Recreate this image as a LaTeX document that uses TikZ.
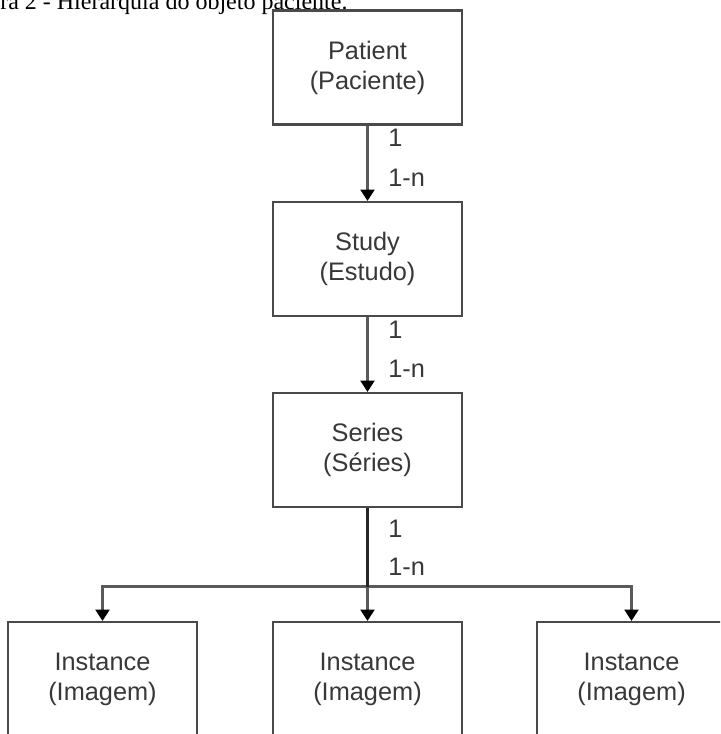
\documentclass[tikz,border=0pt]{standalone}
\usepackage{fontspec}
\setmainfont{Liberation Sans}
\newfontfamily\captionserif{Liberation Serif}
\usetikzlibrary{arrows.meta}
\definecolor{boxline}{HTML}{4A4A4A}
\definecolor{linkgray}{HTML}{5A5A5A}
\definecolor{txt}{HTML}{383838}
\begin{document}
\begin{tikzpicture}[x=0.75pt,y=-0.75pt,
  entity/.style={draw=boxline, fill=white, line width=1.6pt,
    minimum width=141.75pt, minimum height=85.5pt, inner sep=0pt,
    align=center, text=txt, font=\fontsize{19}{22.5}\selectfont},
  link/.style={draw=linkgray, line width=1.6pt,
    -{Triangle[length=8.5pt,width=10.5pt,color=black]}},
  trunk/.style={draw=black!85, line width=2.2pt},
  mult/.style={anchor=base west, inner sep=0pt, text=txt,
    font=\fontsize{19}{22.5}\selectfont}
]
\useasboundingbox (0,0) rectangle (720,734);
\clip (0,0) rectangle (720,734);

% caption line, cut by the top edge of the page
\node[anchor=base west, inner sep=0pt, text=black,
  font=\captionserif\fontsize{18}{20}\selectfont] (caption) at (0,9.5)
  {ra 2 - Hierarquia do objeto paciente.};

% hierarchy boxes
\node[entity] (patient) at (367.5,67.5) {Patient\\(Paciente)};
\node[entity] (study)   at (367.5,259)  {Study\\(Estudo)};
\node[entity] (series)  at (367.5,450)  {Series\\(Séries)};
\node[entity] (inst1)   at (102.5,679)  {Instance\\(Imagem)};
\node[entity] (inst2)   at (367.5,679)  {Instance\\(Imagem)};
\node[entity] (inst3)   at (631.5,679)  {Instance\\(Imagem)};

% connectors
\draw[link] (patient) -- (study);
\draw[link] (study) -- (series);
\coordinate (split) at (367.5,586.5);
\draw[link] (series.south) -- (split) -| (inst1.north);
\draw[link] (series.south) -- (inst2.north);
\draw[link] (series.south) -- (split) -| (inst3.north);
\draw[trunk] (series.south) -- (split);

% multiplicities
\node[mult] (m1a) at (388,147) {1};
\node[mult] (m1b) at (388,187) {1-n};
\node[mult] (m2a) at (388,338) {1};
\node[mult] (m2b) at (388,377) {1-n};
\node[mult] (m3a) at (388,537) {1};
\node[mult] (m3b) at (388,575) {1-n};
\end{tikzpicture}
\end{document}
